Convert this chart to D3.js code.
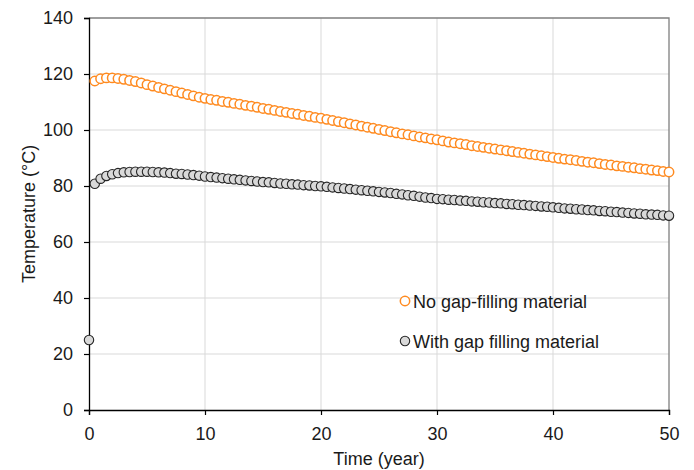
<!DOCTYPE html>
<html>
<head>
<meta charset="utf-8">
<script src="https://cdn.jsdelivr.net/npm/d3@7"></script>
<style>
  html, body { margin: 0; padding: 0; background: #fff; }
  svg { display: block; font-family: "Liberation Sans", Arial, sans-serif; }
</style>
</head>
<body>
<svg id="chart" width="694" height="470"></svg>
<script>
// ---- data ----
const years = [
  0.5, 1, 1.5, 2, 2.5, 3, 3.5, 4, 4.5, 5, 5.5, 6, 6.5, 7, 7.5, 8, 8.5, 9, 9.5, 10,
  10.5, 11, 11.5, 12, 12.5, 13, 13.5, 14, 14.5, 15, 15.5, 16, 16.5, 17, 17.5, 18, 18.5, 19, 19.5, 20,
  20.5, 21, 21.5, 22, 22.5, 23, 23.5, 24, 24.5, 25, 25.5, 26, 26.5, 27, 27.5, 28, 28.5, 29, 29.5, 30,
  30.5, 31, 31.5, 32, 32.5, 33, 33.5, 34, 34.5, 35, 35.5, 36, 36.5, 37, 37.5, 38, 38.5, 39, 39.5, 40,
  40.5, 41, 41.5, 42, 42.5, 43, 43.5, 44, 44.5, 45, 45.5, 46, 46.5, 47, 47.5, 48, 48.5, 49, 49.5, 50
];
const noGapFilling = [
  117.5, 118.3, 118.6, 118.6, 118.4, 118.1, 117.7, 117.3, 116.8, 116.2, 115.7, 115.2, 114.7, 114.2, 113.7, 113.2, 112.7, 112.2, 111.7, 111.3,
  110.9, 110.6, 110.2, 109.9, 109.5, 109.2, 108.8, 108.5, 108.1, 107.7, 107.4, 107.0, 106.6, 106.3, 105.9, 105.6, 105.2, 104.9, 104.5, 104.2,
  103.8, 103.4, 103.0, 102.6, 102.2, 101.8, 101.4, 101.0, 100.6, 100.2, 99.8, 99.4, 99.0, 98.6, 98.3, 97.9, 97.5, 97.2, 96.8, 96.5,
  96.1, 95.7, 95.4, 95.1, 94.8, 94.4, 94.1, 93.8, 93.5, 93.2, 92.9, 92.6, 92.3, 92.0, 91.7, 91.4, 91.1, 90.8, 90.5, 90.2,
  89.9, 89.6, 89.4, 89.1, 88.8, 88.5, 88.3, 88.0, 87.7, 87.5, 87.2, 87.0, 86.7, 86.5, 86.2, 86.0, 85.7, 85.5, 85.2, 85.0
];
const withGapFilling = [
  80.8, 82.6, 83.6, 84.2, 84.6, 84.9, 85.0, 85.1, 85.1, 85.1, 85.0, 84.9, 84.8, 84.6, 84.4, 84.3, 84.1, 83.9, 83.7, 83.4,
  83.2, 83.0, 82.8, 82.6, 82.4, 82.2, 82.0, 81.8, 81.6, 81.4, 81.3, 81.1, 80.9, 80.8, 80.6, 80.5, 80.3, 80.2, 80.0, 79.9,
  79.7, 79.5, 79.3, 79.1, 78.9, 78.7, 78.5, 78.3, 78.1, 77.9, 77.7, 77.5, 77.2, 77.0, 76.7, 76.5, 76.2, 75.9, 75.7, 75.4,
  75.3, 75.1, 75.0, 74.8, 74.7, 74.5, 74.4, 74.2, 74.1, 73.9, 73.8, 73.6, 73.5, 73.3, 73.2, 73.0, 72.9, 72.7, 72.6, 72.4,
  72.2, 72.0, 71.9, 71.7, 71.6, 71.4, 71.3, 71.1, 71.0, 70.8, 70.7, 70.5, 70.4, 70.2, 70.1, 69.9, 69.8, 69.7, 69.5, 69.4
];
const initialYear = [0];
const initialTemp = [25];
const xTicks = [0, 10, 20, 30, 40, 50];
const yTicks = [0, 20, 40, 60, 80, 100, 120, 140];
const seriesNames = ["No gap-filling material", "With gap filling material"];
const xTitle = "Time (year)";
const yTitle = "Temperature (°C)";

// ---- layout ----
const svg = d3.select("#chart");
const W = 694, H = 470;
const m = { left: 89, right: 25, top: 18, bottom: 60 };
const x = d3.scaleLinear().domain([0, 50]).range([m.left, W - m.right]);
const y = d3.scaleLinear().domain([0, 140]).range([H - m.bottom, m.top]);
const FS = "18px";

// gridlines
svg.append("g").selectAll("line").data(yTicks.filter(d => d > 0 && d < 140)).join("line")
  .attr("x1", x(0)).attr("x2", x(50)).attr("y1", d => y(d)).attr("y2", d => y(d))
  .attr("stroke", "#d9d9d9").attr("stroke-width", 1);
svg.append("g").selectAll("line").data(xTicks.filter(d => d > 0 && d < 50)).join("line")
  .attr("y1", y(0)).attr("y2", y(140)).attr("x1", d => x(d)).attr("x2", d => x(d))
  .attr("stroke", "#d9d9d9").attr("stroke-width", 1);

// top & right frame
svg.append("path")
  .attr("d", `M${x(0)},${y(140)}H${x(50)}V${y(0)}`)
  .attr("fill", "none").attr("stroke", "#7f7f7f").attr("stroke-width", 1.3);

// axes
const xAxis = svg.append("g").attr("transform", `translate(0,${y(0)})`)
  .call(d3.axisBottom(x).tickValues(xTicks).tickSize(5).tickPadding(12).tickFormat(d3.format("d")));
const yAxis = svg.append("g").attr("transform", `translate(${x(0)},0)`)
  .call(d3.axisLeft(y).tickValues(yTicks).tickSize(5).tickPadding(11).tickFormat(d3.format("d")));
[xAxis, yAxis].forEach(g => {
  g.select(".domain").attr("stroke", "#000").attr("stroke-width", 1.3);
  g.selectAll(".tick line").attr("stroke", "#000").attr("stroke-width", 1.2);
  g.selectAll(".tick text").attr("fill", "#1a1a1a").style("font-size", FS)
    .style("font-family", "'Liberation Sans', Arial, sans-serif");
});

// axis titles
svg.append("text").attr("x", x(25)).attr("y", 465).attr("text-anchor", "middle")
  .attr("fill", "#1a1a1a").style("font-size", FS).text(xTitle);
svg.append("text").attr("transform", `translate(30,${y(70)}) rotate(-90)`)
  .attr("text-anchor", "middle").attr("dominant-baseline", "middle")
  .attr("fill", "#1a1a1a").style("font-size", FS).text(yTitle);

// series
const orange = "#ff8a1f";
const r = 4.7;
const noGapData = years.map((t, i) => ({ t, v: noGapFilling[i] }));
const withGapData = initialYear.map((t, i) => ({ t, v: initialTemp[i] }))
  .concat(years.map((t, i) => ({ t, v: withGapFilling[i] })));

svg.append("g").selectAll("circle").data(noGapData).join("circle")
  .attr("cx", d => x(d.t)).attr("cy", d => y(d.v)).attr("r", r)
  .attr("fill", "#fff").attr("stroke", orange).attr("stroke-width", 1.5);
svg.append("g").selectAll("circle").data(withGapData).join("circle")
  .attr("cx", d => x(d.t)).attr("cy", d => y(d.v)).attr("r", r)
  .attr("fill", "#d9d9d9").attr("stroke", "#262626").attr("stroke-width", 1.1);

// legend
const legend = svg.append("g");
const lg = [
  { name: seriesNames[0], fill: "#fff", stroke: orange, sw: 1.5, cy: 301 },
  { name: seriesNames[1], fill: "#d9d9d9", stroke: "#262626", sw: 1.1, cy: 341 }
];
lg.forEach(d => {
  legend.append("circle").attr("cx", 405).attr("cy", d.cy).attr("r", r)
    .attr("fill", d.fill).attr("stroke", d.stroke).attr("stroke-width", d.sw);
  legend.append("text").attr("x", 413).attr("y", d.cy + 6.5)
    .attr("fill", "#1a1a1a").style("font-size", FS).text(d.name);
});
</script>
</body>
</html>
